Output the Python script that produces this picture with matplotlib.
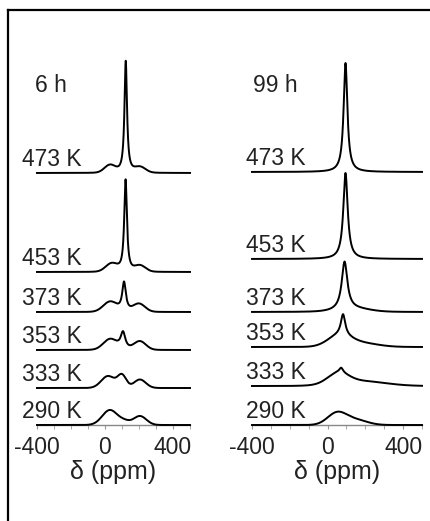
import numpy as np
import matplotlib
matplotlib.use("Agg")
import matplotlib.pyplot as plt
from matplotlib.lines import Line2D
from matplotlib.ticker import MultipleLocator

plt.rcParams['font.family'] = ['Liberation Sans', 'DejaVu Sans']

# temperatures, bottom to top
temps = ["290 K", "333 K", "353 K", "373 K", "453 K", "473 K"]

# vertical offsets of each trace (intensity units, bottom to top)
left_offsets = [0, 37, 75, 113, 153, 252]
right_offsets = [0, 39, 78, 113, 166, 253]

# peak components: (shape, centre ppm, width ppm, height)
# 'g' = gaussian (width = sigma), 'l' = lorentzian (width = fwhm)
left_290 = [('g', 29, 45, 15), ('g', 115, 30, 3), ('g', 205, 38, 9)]
left_333 = [('g', 18, 40, 12), ('g', 100, 25, 12.5), ('g', 205, 35, 8.5)]
left_353 = [('g', 30, 40, 10.5), ('l', 106, 34, 17), ('g', 205, 35, 8.5)]
left_373 = [('g', 30, 40, 10), ('l', 112, 26, 29), ('g', 200, 35, 8)]
left_453 = [('g', 39, 35, 8), ('l', 121, 19, 92), ('g', 206, 32, 6)]
left_473 = [('g', 29, 32, 7.5), ('l', 122, 18, 112), ('g', 206, 32, 5.5)]

right_290 = [('g', 50, 50, 12), ('g', 150, 60, 5)]
right_333 = [('g', 55, 55, 10), ('l', 72, 25, 5), ('g', 170, 130, 5)]
right_353 = [('g', 60, 60, 10), ('l', 82, 28, 21), ('g', 170, 90, 4)]
right_373 = [('l', 90, 36, 48), ('g', 140, 80, 3)]
right_453 = [('l', 95, 28, 86)]
right_473 = [('l', 95, 24, 109)]

left_traces = [left_290, left_333, left_353, left_373, left_453, left_473]
right_traces = [right_290, right_333, right_353, right_373, right_453, right_473]

titles = ["6 h", "99 h"]
xticks_major = [-400, 0, 400]


def spectrum(x, comps):
    y = np.zeros_like(x)
    for kind, c, w, h in comps:
        if kind == 'g':
            y += h * np.exp(-0.5 * ((x - c) / w) ** 2)
        else:
            y += h / (1 + (2 * (x - c) / w) ** 2)
    return y


def draw_panel(ax, traces, offsets, title, lab_dx, title_dx):
    x = np.linspace(-400, 500, 2000)
    for comps, off, t in zip(traces, offsets, temps):
        ax.plot(x, spectrum(x, comps) + off, color='black', lw=1.4,
                clip_on=False, zorder=3)
        ax.annotate(t, xy=(-400, off), xytext=(lab_dx, 7),
                    textcoords='offset pixels', ha='left', va='baseline',
                    fontsize=16.5, color='#222222')
    ax.annotate(title, xy=(-400, 333), xytext=(title_dx, 0),
                textcoords='offset pixels', ha='left', va='baseline',
                fontsize=16.5, color='#222222')

    ax.set_xlim(-400, 500)
    ax.set_ylim(0, 375)
    for s in ['top', 'right', 'left']:
        ax.spines[s].set_visible(False)
    ax.spines['bottom'].set_color('#888888')
    ax.spines['bottom'].set_linewidth(1.0)
    ax.set_yticks([])
    ax.set_xticks(xticks_major)
    ax.xaxis.set_minor_locator(MultipleLocator(100))
    ax.tick_params(axis='x', which='both', direction='out', length=3,
                   color='#999999', labelsize=16.5, pad=5, labelcolor='#222222')
    ax.set_xticklabels([str(v) for v in xticks_major])
    ax.set_xlabel("δ (ppm)", fontsize=18, labelpad=1, color='#222222')
    ax.patch.set_alpha(0)


W, H = 431, 521
fig = plt.figure(figsize=(W / 100, H / 100), dpi=100)

bottom = (H - 425) / H
height = 375 / H
ax1 = fig.add_axes([37 / W, bottom, 153 / W, height])
ax2 = fig.add_axes([252 / W, bottom, 170 / W, height])

draw_panel(ax1, left_traces, left_offsets, titles[0], -15, -2)
draw_panel(ax2, right_traces, right_offsets, titles[1], -6, 1)

# frame lines (top and left only)
fig.add_artist(Line2D([8 / W, 1], [1 - 10 / H, 1 - 10 / H], color='black', lw=1.6))
fig.add_artist(Line2D([8 / W, 8 / W], [0, 1 - 10 / H], color='black', lw=1.6))

fig.savefig("out.png", dpi=100)
